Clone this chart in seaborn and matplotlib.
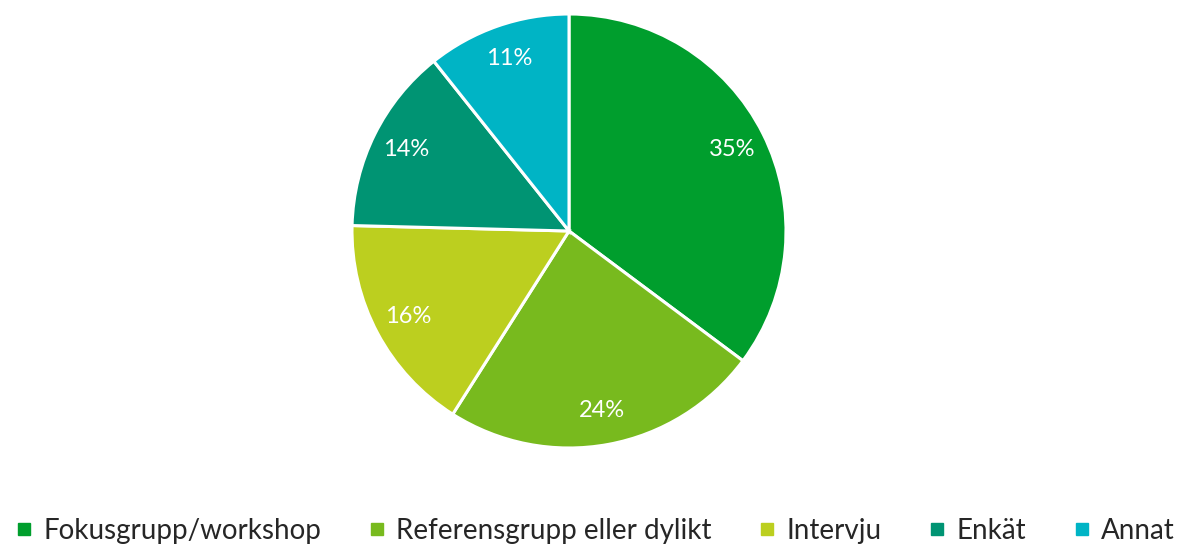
# pie chart - share of methods
import matplotlib
matplotlib.use("Agg")
import matplotlib.pyplot as plt
from matplotlib.lines import Line2D
import seaborn as sns

categories = ["Fokusgrupp/workshop", "Referensgrupp eller dylikt", "Intervju", "Enkät", "Annat"]
shares = [35.2, 23.8, 16.4, 13.9, 10.7]
colors = ["#009E2D", "#78BA1E", "#BCCF1F", "#009473", "#00B4C5"]

sns.set_theme(style="white")
plt.rcParams["font.family"] = ["Lato", "DejaVu Sans"]

fig = plt.figure(figsize=(11.92, 5.45), dpi=100)
ax = fig.add_axes([(569 - 217) / 1192, (545 - 231 - 217) / 545, 434 / 1192, 434 / 545])

wedges, texts, autotexts = ax.pie(
    shares,
    colors=colors,
    startangle=90,
    counterclock=False,
    autopct="%1.0f%%",
    pctdistance=0.84,
    wedgeprops=dict(edgecolor="white", linewidth=2.2),
    textprops=dict(color="white", fontsize=17),
)
ax.set_xlim(-1, 1)
ax.set_ylim(-1, 1)
ax.set_aspect("equal")

handles = [
    Line2D([], [], marker="s", linestyle="none", markersize=8.6,
           markerfacecolor=c, markeredgecolor=c)
    for c in colors
]
fig.legend(
    handles, categories,
    loc="center", bbox_to_anchor=(0.5, 14 / 545),
    ncol=5, frameon=False, fontsize=20,
    handlelength=0.5, handletextpad=0.45, columnspacing=1.75,
    borderaxespad=0, borderpad=0,
)

fig.savefig("out.png", dpi=100)
